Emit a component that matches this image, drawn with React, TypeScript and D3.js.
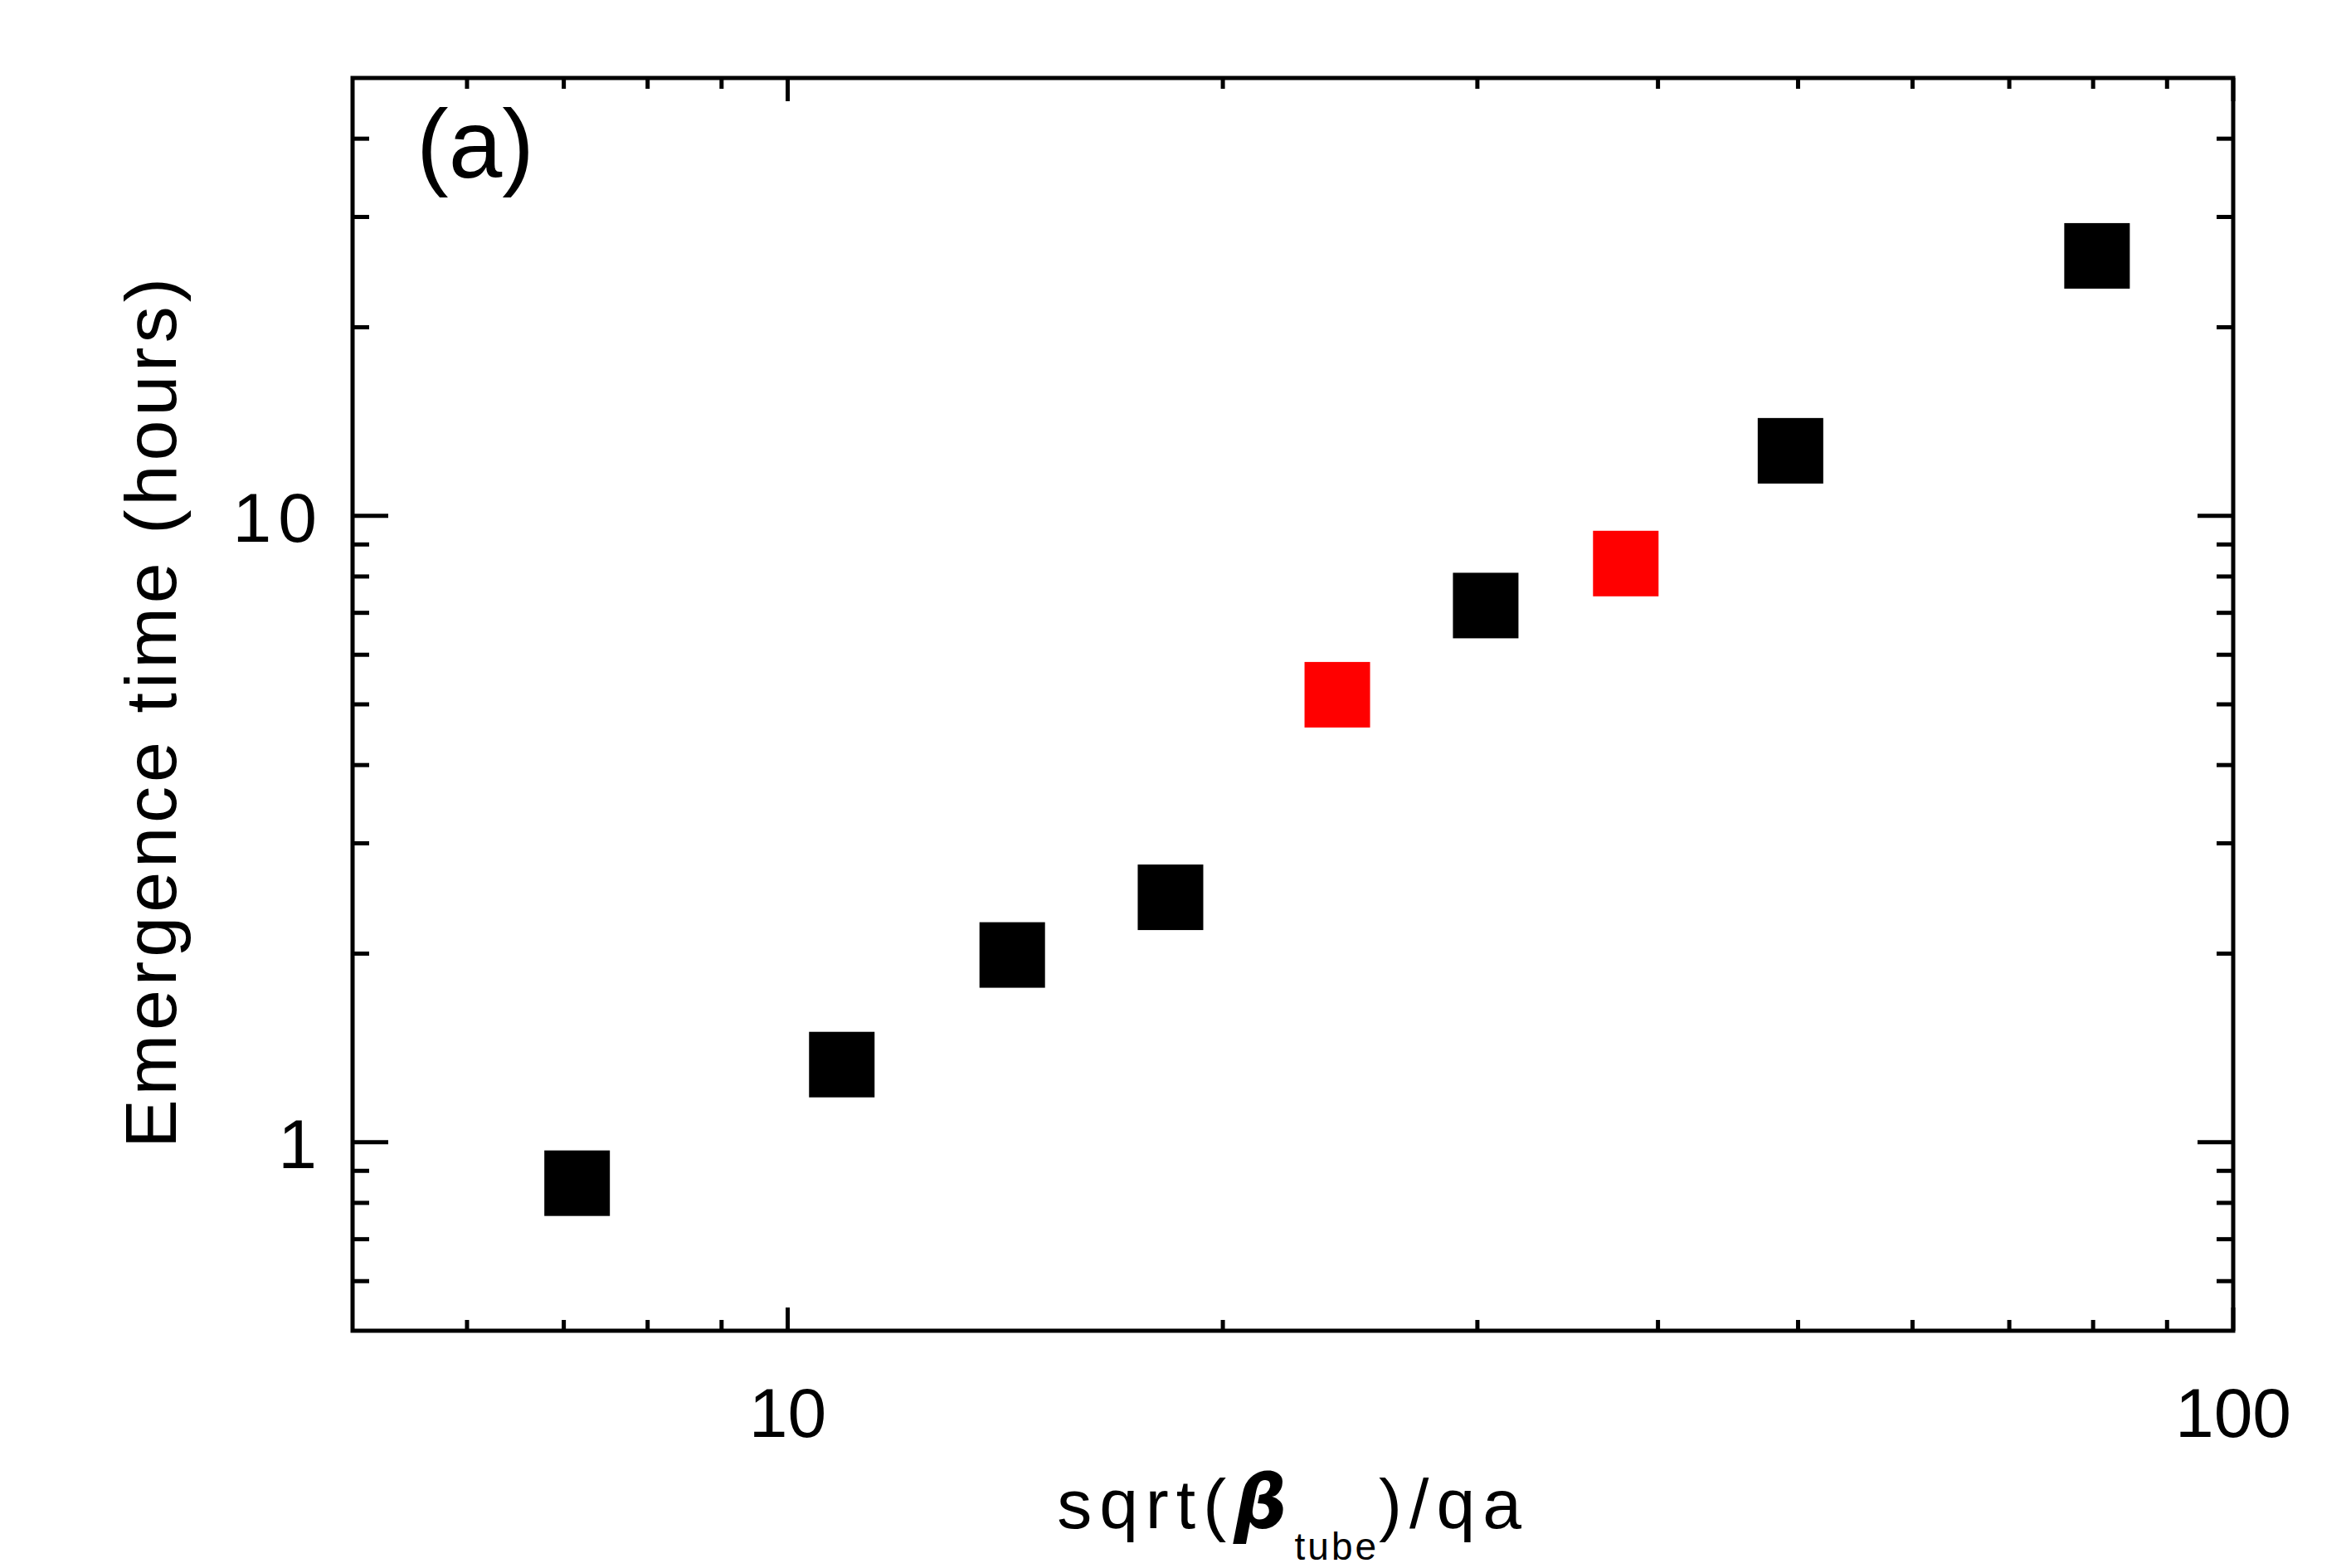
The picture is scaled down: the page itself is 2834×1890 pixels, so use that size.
import React from "react";
import * as d3 from "d3";

const xValues = [7.15, 10.9, 14.3, 18.4, 24.0, 30.4, 38.0, 49.4, 80.5];
const yValues = [0.86, 1.33, 1.99, 2.46, 5.18, 7.19, 8.39, 12.7, 26.0];
const pointColors = ["black", "black", "black", "black", "red", "black", "red", "black", "black"];

const xMajorTicks = [10, 100];
const xMinorTicks = [6, 7, 8, 9, 20, 30, 40, 50, 60, 70, 80, 90];
const yMajorTicks = [1, 10];
const yMinorTicks = [0.6, 0.7, 0.8, 0.9, 2, 3, 4, 5, 6, 7, 8, 9, 20, 30, 40];

const W = 2834;
const H = 1890;
const L = 425, R = 2692, T = 94, B = 1604;
const FONT = "'Liberation Sans', Arial, sans-serif";

export default function App() {
  const x = d3.scaleLog().domain([5, 100]).range([L, R]);
  const y = d3.scaleLog().domain([0.5, 50]).range([B, T]);
  const sq = 79;
  const xMaj = 28, xMin = 13, yMaj = 43, yMin = 20;

  return (
    <svg width={W} height={H} style={{ position: "absolute", left: 0, top: 0, background: "white" }}>
      <rect x={0} y={0} width={W} height={H} fill="white" />
      {xValues.map((xv, i) => (
        <rect key={i} x={x(xv) - sq / 2} y={y(yValues[i]) - sq / 2} width={sq} height={sq} fill={pointColors[i]} />
      ))}
      <g stroke="black" strokeWidth={5}>
        {xMajorTicks.map((t) => (
          <g key={"xM" + t}>
            <line x1={x(t)} x2={x(t)} y1={B} y2={B - xMaj} />
            <line x1={x(t)} x2={x(t)} y1={T} y2={T + xMaj} />
          </g>
        ))}
        {xMinorTicks.map((t) => (
          <g key={"xm" + t}>
            <line x1={x(t)} x2={x(t)} y1={B} y2={B - xMin} />
            <line x1={x(t)} x2={x(t)} y1={T} y2={T + xMin} />
          </g>
        ))}
        {yMajorTicks.map((t) => (
          <g key={"yM" + t}>
            <line x1={L} x2={L + yMaj} y1={y(t)} y2={y(t)} />
            <line x1={R} x2={R - yMaj} y1={y(t)} y2={y(t)} />
          </g>
        ))}
        {yMinorTicks.map((t) => (
          <g key={"ym" + t}>
            <line x1={L} x2={L + yMin} y1={y(t)} y2={y(t)} />
            <line x1={R} x2={R - yMin} y1={y(t)} y2={y(t)} />
          </g>
        ))}
      </g>
      <rect x={L} y={T} width={R - L} height={B - T} fill="none" stroke="black" strokeWidth={5} />
      <g fontFamily={FONT} fontSize={84} fill="black">
        {xMajorTicks.map((t) => (
          <text key={"xl" + t} x={x(t)} y={1732} textAnchor="middle">{String(t)}</text>
        ))}
        {yMajorTicks.map((t) => (
          <text key={"yl" + t} x={390} y={y(t) + 31} textAnchor="end" letterSpacing={8}>{String(t)}</text>
        ))}
      </g>
      <text x={502} y={214} fontFamily={FONT} fontSize={116} fill="black">(a)</text>
      <text x={(L + R) / 2} y={1842} textAnchor="middle" fontFamily={FONT} fontSize={84} letterSpacing={9} fill="black">
        sqrt(
        <tspan fontWeight="bold" fontStyle="italic" fontFamily="'DejaVu Sans', sans-serif" fontSize={90}>β</tspan>
        <tspan fontSize={46} dy={38} letterSpacing={3}>tube</tspan>
        <tspan dy={-38}>)/qa</tspan>
      </text>
      <text
        transform={`translate(212, ${(T + B) / 2 + 8}) rotate(-90)`}
        textAnchor="middle"
        fontFamily={FONT}
        fontSize={88}
        letterSpacing={5}
        fill="black"
      >
        Emergence time (hours)
      </text>
    </svg>
  );
}
